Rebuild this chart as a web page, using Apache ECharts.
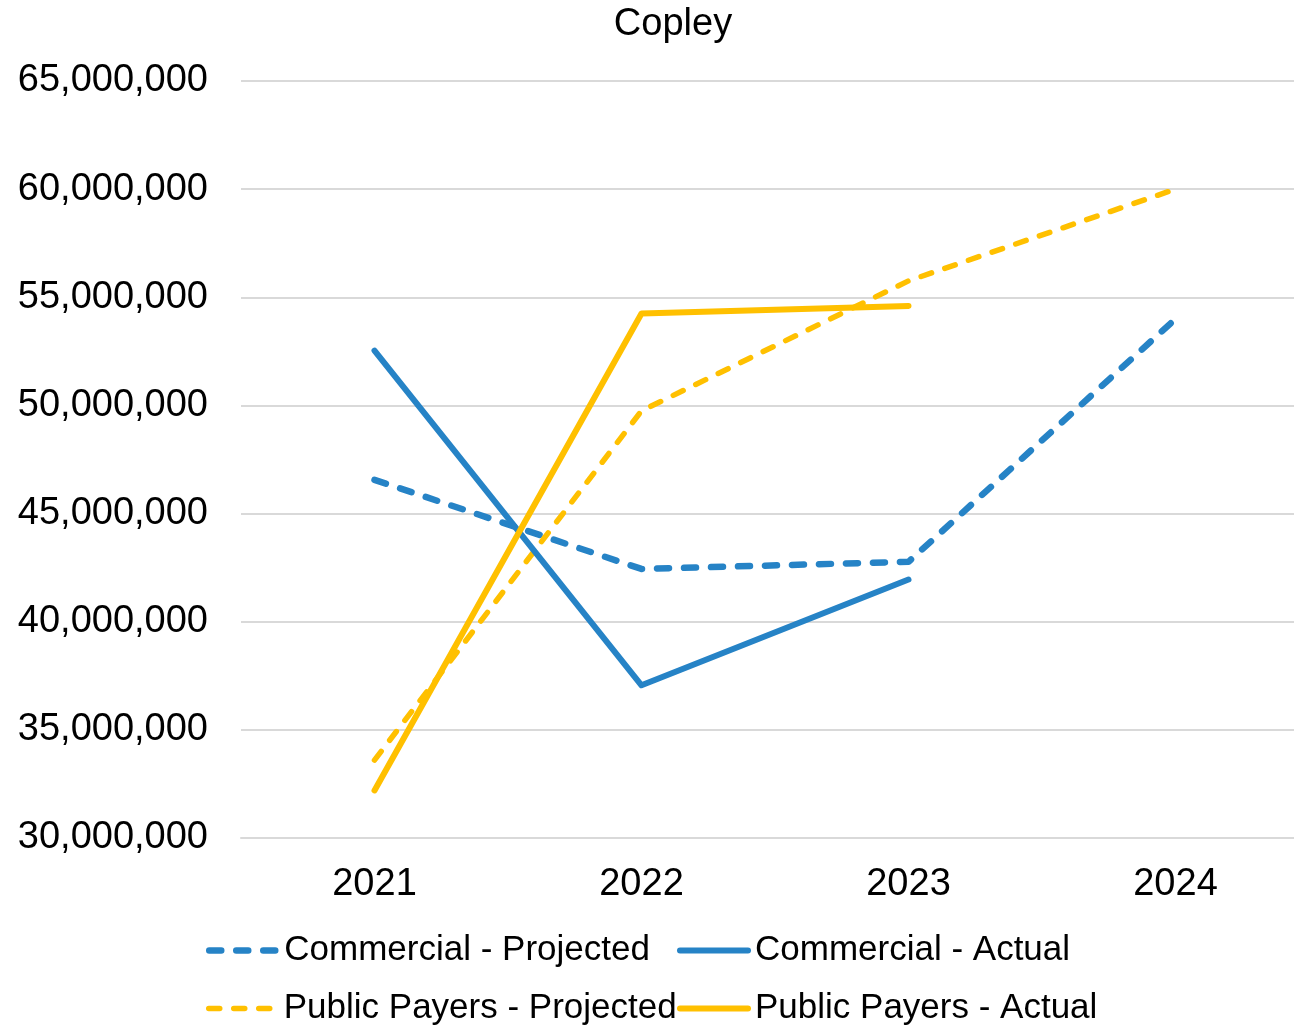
<!DOCTYPE html>
<html>
<head>
<meta charset="utf-8">
<title>Copley</title>
<script src="https://cdn.jsdelivr.net/npm/echarts@6/dist/echarts.min.js"></script>
<style>
  html, body { margin: 0; padding: 0; background: #fff; }
  #chart { width: 1294px; height: 1030px; }
</style>
</head>
<body>
<div id="chart"></div>
<script>
// Revenue by payer group, projected vs. actual
const years = ['2021', '2022', '2023', '2024'];
const commercialProjected = [46560000, 42440000, 42770000, 54000000];
const commercialActual = [52530000, 37060000, 41950000, null];
const publicProjected = [33600000, 49750000, 55760000, 60000000];
const publicActual = [32200000, 54250000, 54600000, null];

const BLUE = '#2683C6';
const GOLD = '#FFC000';
const FONT = 'Liberation Sans';

// per-series stroke: width and dash pattern (null = solid)
const STYLES = {
  'Commercial - Projected': { color: BLUE, width: 6.5, dash: [12, 15] },
  'Commercial - Actual': { color: BLUE, width: 6, dash: null },
  'Public Payers - Projected': { color: GOLD, width: 5.5, dash: [11, 14] },
  'Public Payers - Actual': { color: GOLD, width: 6, dash: null }
};

function lineSeries(name, data) {
  const s = STYLES[name];
  return {
    name: name,
    type: 'line',
    data: data,
    symbol: 'none',
    connectNulls: false,
    lineStyle: { color: s.color, width: s.width, type: s.dash || 'solid', cap: 'round', join: 'round' },
    itemStyle: { color: s.color },
    emphasis: { disabled: true },
    z: s.dash ? 2 : 3
  };
}

function legendAt(name, left, top) {
  const s = STYLES[name];
  return {
    data: [name],
    left: left,
    top: top,
    itemWidth: 68,
    itemHeight: 36,
    itemGap: 0,
    padding: 0,
    selectedMode: false,
    itemStyle: { opacity: 0 },
    textStyle: { fontFamily: FONT, fontSize: 35, color: '#000', padding: [0, 0, 0, 2] },
    lineStyle: { width: s.width, type: s.dash || 'solid', cap: 'round', color: s.color, opacity: 1 }
  };
}

const chart = echarts.init(document.getElementById('chart'), null, { renderer: 'canvas' });
chart.setOption({
  animation: false,
  backgroundColor: '#ffffff',
  title: {
    text: 'Copley',
    left: 668,
    top: 1,
    textAlign: 'center',
    textStyle: { fontFamily: FONT, fontSize: 38, fontWeight: 'normal', color: '#000' }
  },
  legend: [
    legendAt('Commercial - Projected', 206, 933),
    legendAt('Commercial - Actual', 677, 933),
    legendAt('Public Payers - Projected', 206, 991),
    legendAt('Public Payers - Actual', 677, 991)
  ],
  grid: { left: 241, width: 1068, top: 81, height: 757, containLabel: false, outerBoundsMode: 'none' },
  xAxis: {
    type: 'category',
    data: years,
    boundaryGap: true,
    axisLine: { show: true, lineStyle: { color: '#D9D9D9', width: 2 } },
    axisTick: { show: false },
    axisLabel: { fontFamily: FONT, fontSize: 38, color: '#000', margin: 28 }
  },
  yAxis: {
    type: 'value',
    min: 30000000,
    max: 65000000,
    interval: 5000000,
    axisLine: { show: false },
    axisTick: { show: false },
    splitLine: { lineStyle: { color: '#D9D9D9', width: 2 } },
    axisLabel: {
      fontFamily: FONT,
      fontSize: 38,
      color: '#000',
      margin: 33,
      formatter: v => v.toLocaleString('en-US')
    }
  },
  series: [
    lineSeries('Commercial - Projected', commercialProjected),
    lineSeries('Commercial - Actual', commercialActual),
    lineSeries('Public Payers - Projected', publicProjected),
    lineSeries('Public Payers - Actual', publicActual)
  ]
});
</script>
</body>
</html>
